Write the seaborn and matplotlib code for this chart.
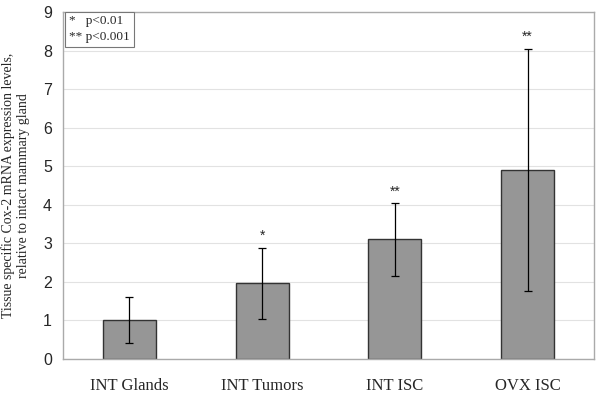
import pandas as pd
import seaborn as sns
import matplotlib.pyplot as plt

# data
tissues = ['INT Glands', 'INT Tumors', 'INT ISC', 'OVX ISC']
expression = [1.0, 1.96, 3.1, 4.9]
errors = [0.6, 0.92, 0.94, 3.15]
marks = ['', '*', '**', '**']

df = pd.DataFrame({'tissue': tissues, 'expr': expression, 'err': errors})

sns.set_style('white')
plt.rcParams['font.family'] = ['Liberation Serif', 'DejaVu Serif']

fig, ax = plt.subplots(figsize=(6, 4.01), dpi=100)
fig.subplots_adjust(left=0.105, right=0.99, top=0.97, bottom=0.105)

sns.barplot(data=df, x='tissue', y='expr', color='#969696', width=0.4,
            edgecolor='#333333', linewidth=1.0, saturation=1, errorbar=None, ax=ax)
ax.errorbar(range(len(tissues)), df['expr'], yerr=df['err'], fmt='none',
            ecolor='black', elinewidth=0.9, capsize=3, capthick=0.9)

for i, m in enumerate(marks):
    if m:
        ax.text(i, expression[i] + errors[i] + 0.12, m, ha='center', va='bottom',
                fontsize=10, family='Liberation Sans')

ax.set_ylim(0, 9)
ax.set_xlim(-0.5, 3.5)
ax.set_yticks(range(10))
ax.yaxis.grid(True, color='#e2e2e2', linewidth=0.8)
ax.set_axisbelow(True)
for lbl in ax.get_yticklabels():
    lbl.set_family('Liberation Sans')
    lbl.set_fontsize(11.5)
ax.tick_params(axis='x', labelsize=12, length=0, pad=14)
ax.tick_params(axis='y', length=4, color='#aaaaaa', direction='out', pad=4)
ax.set_xticks([-0.5, 0.5, 1.5, 2.5, 3.5], minor=True)
ax.tick_params(axis='x', which='minor', length=4, color='#bbbbbb', direction='out')

for s in ax.spines.values():
    s.set_color('#aaaaaa')
    s.set_linewidth(1.0)

ax.set_xlabel('')
ax.set_ylabel('Tissue specific Cox-2 mRNA expression levels,\nrelative to intact mammary gland',
              fontsize=10, labelpad=9)

ax.text(0.012, 0.99, '*   p<0.01\n** p<0.001', transform=ax.transAxes, ha='left', va='top',
        fontsize=9.5, linespacing=1.35,
        bbox=dict(boxstyle='square,pad=0.3', facecolor='white', edgecolor='#777777', linewidth=0.8))

plt.savefig('out.png')
